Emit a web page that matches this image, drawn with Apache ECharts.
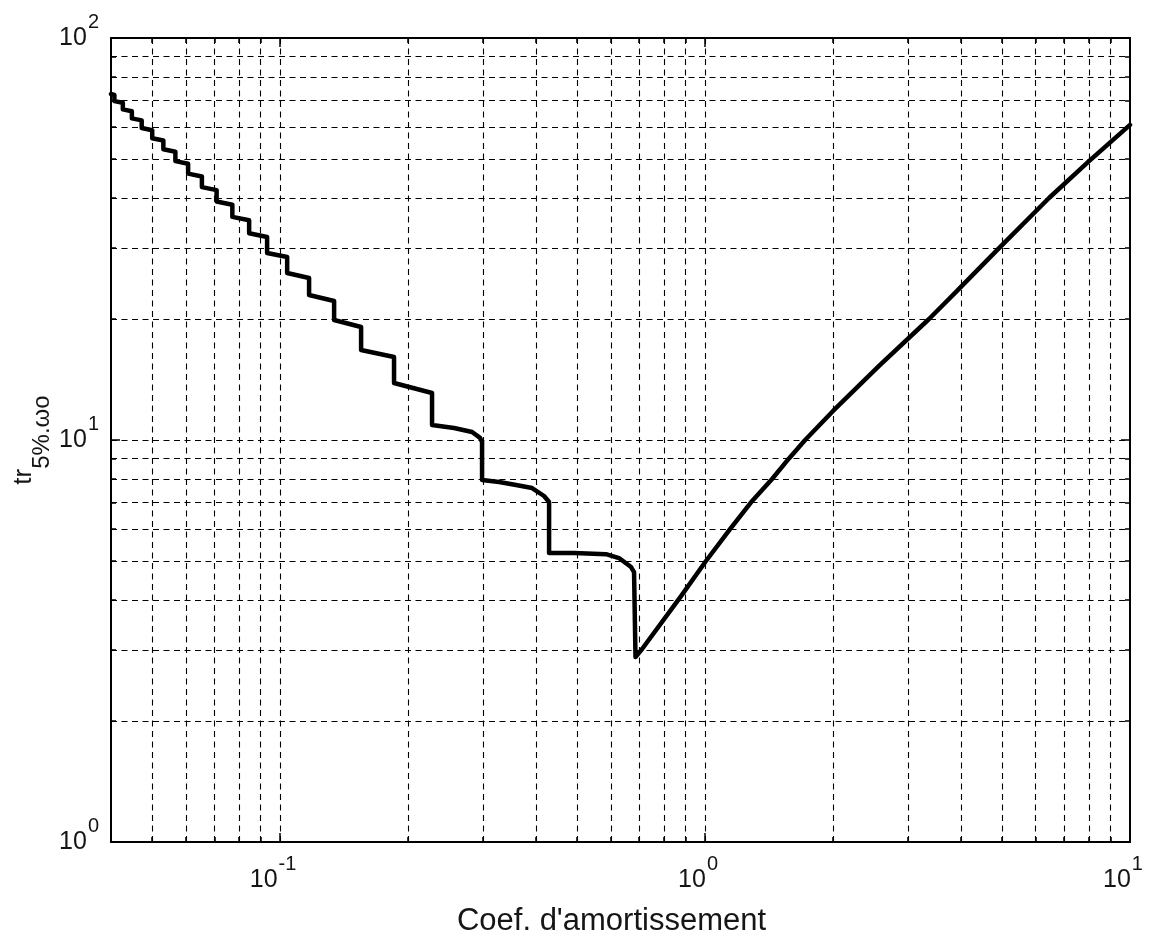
<!DOCTYPE html>
<html>
<head>
<meta charset="utf-8">
<script src="https://cdn.jsdelivr.net/npm/echarts@6/dist/echarts.min.js"></script>
<style>html,body{margin:0;padding:0;background:#fff}#c{width:1157px;height:942px}</style>
</head>
<body>
<div id="c"></div>
<script>
// ---- data ----
const zeta = [0.04, 0.04074, 0.04074, 0.04265, 0.04265, 0.04479, 0.04479, 0.04724, 0.04724, 0.05001,
  0.05001, 0.05312, 0.05312, 0.0567, 0.0567, 0.06075, 0.06075, 0.06546, 0.06546, 0.07089,
  0.07089, 0.0772, 0.0772, 0.08455, 0.08455, 0.0932, 0.0932, 0.1039, 0.1039, 0.117,
  0.117, 0.134, 0.134, 0.1551, 0.1551, 0.1854, 0.1854, 0.2278, 0.2278, 0.2567,
  0.283, 0.2955, 0.2987, 0.2987, 0.3276, 0.3592, 0.3917, 0.418, 0.4295, 0.4295,
  0.4918, 0.5848, 0.6273, 0.6697, 0.6806, 0.686, 0.711, 0.878, 1.005, 1.145,
  1.283, 1.438, 1.576, 1.720, 2.001, 2.567, 3.366, 3.896, 4.918, 6.448, 8.009, 10];
const trw = [72.55, 72.18, 69.66, 68.99, 66.43, 65.72, 63.10, 62.37, 59.72, 58.97,
  56.30, 55.57, 52.86, 52.11, 49.40, 48.67, 45.99, 45.25, 42.57, 41.84,
  39.21, 38.49, 35.89, 35.20, 32.67, 31.99, 29.19, 28.53, 26.03, 25.29,
  22.95, 22.17, 19.89, 19.10, 16.74, 16.09, 13.86, 13.09, 10.90, 10.71,
  10.47, 10.12, 9.886, 7.952, 7.861, 7.726, 7.596, 7.256, 7.010, 5.235,
  5.235, 5.20, 5.086, 4.830, 4.693, 2.885, 3.02, 4.09, 5.0, 6.0,
  7.0, 8.0, 9.0, 10, 11.81, 15.28, 20, 23.35, 30, 40, 49.4, 60.8];

const xMajorTicks = [0.1, 1, 10];
const xTickExp = ['-1', '0', '1'];
const xMinorTicks = [0.05, 0.06, 0.07, 0.08, 0.09, 0.2, 0.3, 0.4, 0.5, 0.6, 0.7, 0.8, 0.9, 2, 3, 4, 5, 6, 7, 8, 9];
const yMajorTicks = [1, 10, 100];
const yTickExp = ['0', '1', '2'];
const yMinorTicks = [2, 3, 4, 5, 6, 7, 8, 9, 20, 30, 40, 50, 60, 70, 80, 90];
const xGrid = [0.05, 0.06, 0.07, 0.08, 0.09, 0.1, 0.2, 0.3, 0.4, 0.5, 0.6, 0.7, 0.8, 0.9, 1, 2, 3, 4, 5, 6, 7, 8, 9];
const yGrid = [2, 3, 4, 5, 6, 7, 8, 9, 10, 20, 30, 40, 50, 60, 70, 80, 90];
const xMin = 0.04, xMax = 10, yMin = 1, yMax = 100;
const xTitle = "Coef. d'amortissement";
const yTitleMain = 'tr';
const yTitleSub = ['5%.\u03c9', 'o'];

// ---- styling ----
const FONT = '"Liberation Sans", Arial, Helvetica, sans-serif';
const TXT = '#151515';
const tickRich = {
  b: { fontFamily: FONT, fontSize: 25, color: TXT },
  s: { fontFamily: FONT, fontSize: 20, color: TXT, padding: [0, 0, 32, 1] }
};
function fmt(majors, exps) {
  return function (v) {
    for (let i = 0; i < majors.length; i++) {
      if (Math.abs(Math.log10(v) - Math.log10(majors[i])) < 1e-6) return '{b|10}{s|' + exps[i] + '}';
    }
    return '';
  };
}
function axis(kind, pos, ticks, len, opts) {
  const a = {
    type: 'log', logBase: 10, position: pos,
    min: kind === 'x' ? xMin : yMin, max: kind === 'x' ? xMax : yMax,
    axisLine: { show: false },
    axisTick: { show: true, inside: true, length: len, customValues: ticks, lineStyle: { color: '#000', width: 1.5 } },
    axisLabel: { show: false },
    splitLine: { show: false },
    minorTick: { show: false },
    minorSplitLine: { show: false },
    axisPointer: { show: false },
    nameMoveOverlap: false
  };
  return Object.assign(a, opts || {});
}
const lineAx = { show: true, lineStyle: { color: '#000', width: 2 } };

const xAxes = [
  axis('x', 'bottom', xMajorTicks, 9, {
    axisLine: lineAx,
    axisLabel: { show: true, customValues: xMajorTicks, formatter: fmt(xMajorTicks, xTickExp), margin: 12, padding: [0, 14, 0, 0], rich: tickRich, showMinLabel: true, showMaxLabel: true },
    name: xTitle, nameLocation: 'middle', nameGap: 63,
    nameTextStyle: { fontFamily: FONT, fontSize: 31, color: TXT, lineHeight: 32, padding: [0, 18, 0, 0] }
  }),
  axis('x', 'bottom', xMinorTicks, 5),
  axis('x', 'top', xMajorTicks, 9, { axisLine: lineAx }),
  axis('x', 'top', xMinorTicks, 5)
];
const yAxes = [
  axis('y', 'left', yMajorTicks, 9, {
    axisLine: lineAx,
    axisLabel: { show: true, customValues: yMajorTicks, formatter: fmt(yMajorTicks, yTickExp), margin: 12, rich: tickRich, showMinLabel: true, showMaxLabel: true },
    name: '{m|' + yTitleMain + '}{u|' + yTitleSub[0] + '}{u|' + yTitleSub[1] + '}',
    nameLocation: 'middle', nameRotate: 90, nameGap: 57,
    nameTextStyle: {
      fontFamily: FONT, fontSize: 26, color: TXT,
      rich: {
        m: { fontFamily: FONT, fontSize: 26, color: TXT },
        u: { fontFamily: FONT, fontSize: 24, color: TXT, padding: [36, 0, 0, 0] }
      }
    }
  }),
  axis('y', 'left', yMinorTicks, 5),
  axis('y', 'right', yMajorTicks, 9, { axisLine: lineAx }),
  axis('y', 'right', yMinorTicks, 5)
];

const gridLines = xGrid.map(v => ({ xAxis: v })).concat(yGrid.map(v => ({ yAxis: v })));

const chart = echarts.init(document.getElementById('c'), null, { renderer: 'canvas' });
chart.setOption({
  animation: false,
  backgroundColor: '#fff',
  grid: { left: 111, right: 27, top: 38, bottom: 100, containLabel: false, outerBoundsMode: 'none' },
  xAxis: xAxes,
  yAxis: yAxes,
  series: [
    {
      type: 'line', data: [], xAxisIndex: 0, yAxisIndex: 0, z: 1, silent: true,
      markLine: {
        silent: true, animation: false, symbol: ['none', 'none'],
        label: { show: false }, emphasis: { disabled: true },
        lineStyle: { color: '#000', width: 1.1, type: [6, 4.5] },
        data: gridLines
      }
    },
    {
      type: 'line', xAxisIndex: 0, yAxisIndex: 0, z: 5,
      data: zeta.map((z, i) => [z, trw[i]]),
      showSymbol: false, symbol: 'none', clip: true,
      lineStyle: { color: '#000', width: 4.5, join: 'round', cap: 'round' }
    }
  ]
});
</script>
</body>
</html>
